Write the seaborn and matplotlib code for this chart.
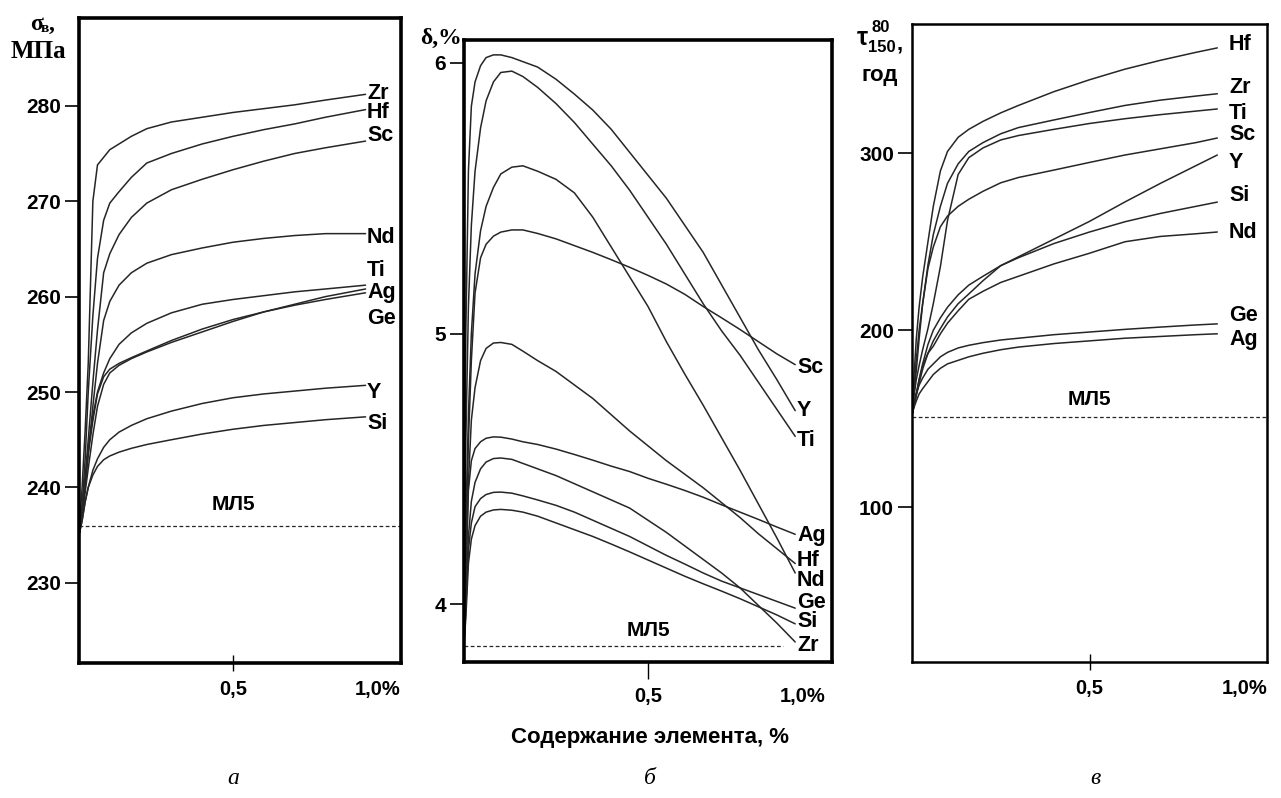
import numpy as np
import pandas as pd
import seaborn as sns
import matplotlib.pyplot as plt

# ---- panel a: ultimate strength, MPa ----
a_x = [0, 0.01, 0.02, 0.03, 0.045, 0.06, 0.08, 0.1, 0.13, 0.17, 0.22, 0.3, 0.4, 0.5, 0.6, 0.7, 0.8, 0.93]
a_zr = [235, 240, 246, 253, 270, 273.8, 274.6, 275.4, 276, 276.8, 277.6, 278.3, 278.8, 279.3, 279.7, 280.1, 280.6, 281.2]
a_hf = [235, 238, 243, 250, 258, 264, 268, 269.8, 271, 272.5, 274, 275, 276, 276.8, 277.5, 278.1, 278.8, 279.6]
a_sc = [235, 237.5, 241, 245, 251, 256.5, 262.5, 264.5, 266.5, 268.3, 269.8, 271.2, 272.3, 273.3, 274.2, 275, 275.6, 276.3]
a_nd = [235, 237, 240, 243.5, 248.5, 253, 257.5, 259.5, 261.2, 262.5, 263.5, 264.4, 265.1, 265.7, 266.1, 266.4, 266.6, 266.6]
a_ti = [235, 238, 241, 244, 247.5, 250, 252, 253.5, 255, 256.2, 257.2, 258.3, 259.2, 259.7, 260.1, 260.5, 260.8, 261.2]
a_ag = [235, 237, 239.5, 242, 245.5, 248.5, 250.8, 252, 252.8, 253.5, 254.2, 255.2, 256.3, 257.4, 258.4, 259.2, 260, 260.8]
a_ge = [235, 237.5, 240.5, 243.5, 247, 249.8, 251.6, 252.4, 253, 253.6, 254.3, 255.4, 256.6, 257.6, 258.4, 259.1, 259.7, 260.4]
a_y = [235, 236.5, 238.5, 240, 241.8, 243, 244.2, 245, 245.8, 246.5, 247.2, 248, 248.8, 249.4, 249.8, 250.1, 250.4, 250.7]
a_si = [235, 236.5, 238.5, 240, 241.3, 242.2, 242.9, 243.3, 243.7, 244.1, 244.5, 245, 245.6, 246.1, 246.5, 246.8, 247.1, 247.4]
a_names = ["Zr", "Hf", "Sc", "Nd", "Ti", "Ag", "Ge", "Y", "Si"]
a_label_y = [281.3, 279.3, 276.9, 266.2, 262.7, 260.4, 257.7, 249.9, 246.7]
a_ml5 = 236.0

# ---- panel b: elongation, % ----
b_x = [0, 0.005, 0.012, 0.02, 0.03, 0.045, 0.06, 0.08, 0.1, 0.13, 0.16, 0.2, 0.25,
       0.3, 0.35, 0.4, 0.45, 0.5, 0.55, 0.6, 0.65, 0.7, 0.75, 0.8, 0.85, 0.9]
b_y = [3.85, 5.0, 5.6, 5.84, 5.93, 5.99, 6.02, 6.03, 6.03, 6.02, 6.005, 5.985, 5.94,
       5.885, 5.826, 5.755, 5.67, 5.585, 5.5, 5.4, 5.3, 5.18, 5.06, 4.94, 4.83, 4.715]
b_ti = [3.85, 4.6, 5.1, 5.4, 5.6, 5.76, 5.86, 5.93, 5.965, 5.97, 5.95, 5.91, 5.85,
        5.78, 5.7, 5.62, 5.53, 5.43, 5.33, 5.22, 5.11, 5.01, 4.92, 4.82, 4.72, 4.62]
b_nd = [3.85, 4.3, 4.7, 5.0, 5.22, 5.38, 5.47, 5.54, 5.59, 5.615, 5.62, 5.6, 5.57,
        5.52, 5.43, 5.32, 5.21, 5.1, 4.97, 4.85, 4.735, 4.615, 4.495, 4.37, 4.245, 4.115]
b_sc = [3.85, 4.2, 4.6, 4.9, 5.15, 5.28, 5.33, 5.36, 5.375, 5.383, 5.383, 5.37, 5.35,
        5.325, 5.3, 5.273, 5.245, 5.215, 5.183, 5.145, 5.1, 5.058, 5.015, 4.97, 4.925, 4.885]
b_hf = [3.85, 4.1, 4.45, 4.68, 4.8, 4.9, 4.945, 4.965, 4.967, 4.96, 4.935, 4.9, 4.86,
        4.81, 4.76, 4.7, 4.64, 4.585, 4.53, 4.48, 4.43, 4.375, 4.32, 4.26, 4.205, 4.15]
b_ag = [3.85, 4.1, 4.42, 4.53, 4.575, 4.6, 4.613, 4.618, 4.617, 4.61, 4.6, 4.59, 4.573,
        4.553, 4.532, 4.51, 4.49, 4.465, 4.443, 4.42, 4.395, 4.367, 4.34, 4.313, 4.285, 4.258]
b_zr = [3.85, 4.0, 4.25, 4.38, 4.45, 4.5, 4.525, 4.538, 4.54, 4.535, 4.52, 4.5, 4.475,
        4.445, 4.415, 4.385, 4.355, 4.31, 4.265, 4.215, 4.165, 4.115, 4.06, 3.995, 3.93, 3.86]
b_ge = [3.85, 3.98, 4.2, 4.3, 4.36, 4.39, 4.405, 4.413, 4.414, 4.41, 4.4, 4.385, 4.365,
        4.34, 4.31, 4.28, 4.25, 4.215, 4.18, 4.148, 4.115, 4.085, 4.06, 4.035, 4.01, 3.985]
b_si = [3.85, 3.95, 4.15, 4.24, 4.29, 4.325, 4.34, 4.348, 4.35, 4.347, 4.34, 4.325, 4.3,
        4.275, 4.25, 4.222, 4.193, 4.163, 4.133, 4.103, 4.075, 4.048, 4.02, 3.99, 3.96, 3.927]
b_names = ["Y", "Ti", "Nd", "Sc", "Hf", "Ag", "Zr", "Ge", "Si"]
b_label_y = [4.717, 4.603, 4.089, 4.876, 4.163, 4.255, 3.848, 4.007, 3.937]
b_ml5 = 3.845

# ---- panel c: time to 0.2% creep at 150 C / 80 MPa, h ----
c_x = [0, 0.005, 0.012, 0.02, 0.03, 0.045, 0.06, 0.08, 0.1, 0.13, 0.16, 0.2, 0.25,
       0.3, 0.4, 0.5, 0.6, 0.7, 0.8, 0.86]
c_hf = [152, 172, 195, 213, 230, 250, 270, 290, 301, 309, 313.5, 318, 322.8, 327, 334.8, 341.5, 347.5, 352.5, 357, 359.5]
c_zr = [152, 166, 183, 200, 215, 237, 254, 270, 283, 294, 301, 306, 311, 314.5, 318.8, 323, 327, 330, 332.3, 333.6]
c_ti = [152, 162, 172, 180, 189, 201, 215, 236, 262, 288, 297.5, 303, 307.5, 310, 313.5, 316.8, 319.5, 321.8, 323.8, 325]
c_sc = [152, 163, 177, 195, 215, 235, 247, 258.5, 264.5, 270, 274, 278.5, 283.3, 286.3, 290.5, 294.8, 299, 302.5, 306, 308.6]
c_y = [152, 157, 163, 170, 178, 187, 194, 201, 207.5, 215, 220.5, 228, 236.5, 241.5, 251.5, 261.5, 272.5, 283, 293, 299]
c_si = [152, 157, 164, 172, 181, 192, 200, 207, 213, 220, 225.5, 230.5, 236.5, 241, 249, 255.5, 261.3, 266, 270, 272.4]
c_nd = [152, 157, 164, 172, 180, 187, 191, 198, 204, 211, 217.5, 222, 227, 230.5, 237.5, 243.5, 250, 253, 254.5, 255.5]
c_ge = [152, 158, 164, 169, 173, 178, 181, 185, 187.5, 190, 191.5, 193, 194.5, 195.5, 197.5, 199, 200.5, 201.8, 203, 203.6]
c_ag = [152, 156, 160, 164, 167, 171, 175, 178.5, 181, 183, 185, 187, 189, 190.5, 192.5, 194, 195.5, 196.5, 197.5, 198]
c_names = ["Hf", "Zr", "Ti", "Sc", "Y", "Si", "Nd", "Ge", "Ag"]
c_label_y = [361.2, 336.9, 322.7, 310.3, 294.5, 275.9, 255.5, 208.6, 194.5]
c_ml5 = 151.0

sns.set_style("white")
plt.rcParams["font.family"] = ["Liberation Sans", "DejaVu Sans"]
plt.rcParams["text.color"] = "black"
plt.rcParams["xtick.color"] = "black"
plt.rcParams["ytick.color"] = "black"
LINE = "#262626"
SERIF = ["Liberation Serif", "DejaVu Serif"]

fig = plt.figure(figsize=(12.81, 7.98), dpi=100)
W, H = 1281, 798


def box(l, r, t, b):
    return [l / W, 1 - b / H, (r - l) / W, (b - t) / H]


ax_a = fig.add_axes(box(79, 401, 18, 663))
ax_b = fig.add_axes(box(464, 832, 40, 662))
ax_c = fig.add_axes(box(912, 1267, 24, 662))


def draw_panel(ax, xs, series, names, label_y, label_x, ml5, ml5_xmax, ml5_text_y,
               xlim, ylim, yticks, one_pos, spine_w, xdir):
    for vals in series:
        sns.lineplot(x=xs, y=vals, ax=ax, color=LINE, lw=1.1, sort=False, legend=False)
    for name, ly in zip(names, label_y):
        ax.text(label_x, ly, name, fontsize=15.5, fontweight="bold", ha="left", va="center")
    ax.plot([0, ml5_xmax], [ml5, ml5], ls=(0, (3, 2)), color=LINE, lw=0.9)
    ax.text(0.5, ml5_text_y, "МЛ5", fontsize=15, fontweight="bold", ha="center", va="center")
    ax.set_xlim(*xlim)
    ax.set_ylim(*ylim)
    ax.set_yticks(yticks)
    ax.set_yticklabels([str(t) for t in yticks], fontsize=15, fontweight="bold")
    ax.set_xticks([0.5, one_pos])
    ax.set_xticklabels(["0,5", "1,0%"], fontsize=14.5, fontweight="bold")
    ax.tick_params(axis="y", direction="out", length=10, width=1.2, pad=3, left=True)
    ax.tick_params(axis="x", direction=xdir, length=12, width=1.0, pad=6, bottom=True)
    ax.xaxis.get_major_ticks()[1].tick1line.set_visible(False)
    ax.set_xlabel("")
    ax.set_ylabel("")
    for s in ax.spines.values():
        s.set_linewidth(spine_w)
        s.set_color("black")


draw_panel(ax_a, a_x, [a_zr, a_hf, a_sc, a_nd, a_ti, a_ag, a_ge, a_y, a_si], a_names, a_label_y,
           0.935, a_ml5, 1.045, 238.2, (0, 1.045), (221.6, 289.2),
           [230, 240, 250, 260, 270, 280], 0.97, 2.6, "inout")
draw_panel(ax_b, b_x, [b_y, b_ti, b_nd, b_sc, b_hf, b_ag, b_zr, b_ge, b_si], b_names, b_label_y,
           0.905, b_ml5, 0.867, 3.904, (0, 1.0), (3.786, 6.085),
           [4, 5, 6], 0.92, 2.6, "out")
draw_panel(ax_c, c_x, [c_hf, c_zr, c_ti, c_sc, c_y, c_si, c_nd, c_ge, c_ag], c_names, c_label_y,
           0.893, c_ml5, 1.0, 160.7, (0, 1.0), (12.6, 373),
           [100, 200, 300], 0.937, 1.8, "inout")

# axis titles
fig.text(30 / W, 1 - 24 / H, "σ", fontsize=17, fontweight="bold", family=SERIF, ha="left", va="center")
fig.text(41 / W, 1 - 29 / H, "в", fontsize=11, fontweight="bold", family=SERIF, ha="left", va="center")
fig.text(49 / W, 1 - 24 / H, ",", fontsize=17, fontweight="bold", family=SERIF, ha="left", va="center")
fig.text(38 / W, 1 - 52 / H, "МПа", fontsize=18, fontweight="bold", family=SERIF, ha="center", va="center")
fig.text(462 / W, 1 - 38 / H, "δ,%", fontsize=17, fontweight="bold", family=SERIF, ha="right", va="center")
fig.text(857 / W, 1 - 38 / H, "τ", fontsize=18, fontweight="bold", ha="left", va="center")
fig.text(872 / W, 1 - 28 / H, "80", fontsize=12, fontweight="bold", ha="left", va="center")
fig.text(868 / W, 1 - 48 / H, "150", fontsize=12, fontweight="bold", ha="left", va="center")
fig.text(897 / W, 1 - 44 / H, ",", fontsize=16, fontweight="bold", ha="left", va="center")
fig.text(880 / W, 1 - 76 / H, "год", fontsize=16, fontweight="bold", ha="center", va="center")

fig.text(650 / W, 1 - 738 / H, "Содержание элемента, %", fontsize=16, fontweight="bold",
         ha="center", va="center")
for px, letter in [(233, "а"), (650, "б"), (1095, "в")]:
    fig.text(px / W, 1 - 778 / H, letter, fontsize=17, style="italic", family=SERIF,
             ha="center", va="center")

fig.savefig("out.png", dpi=100)
